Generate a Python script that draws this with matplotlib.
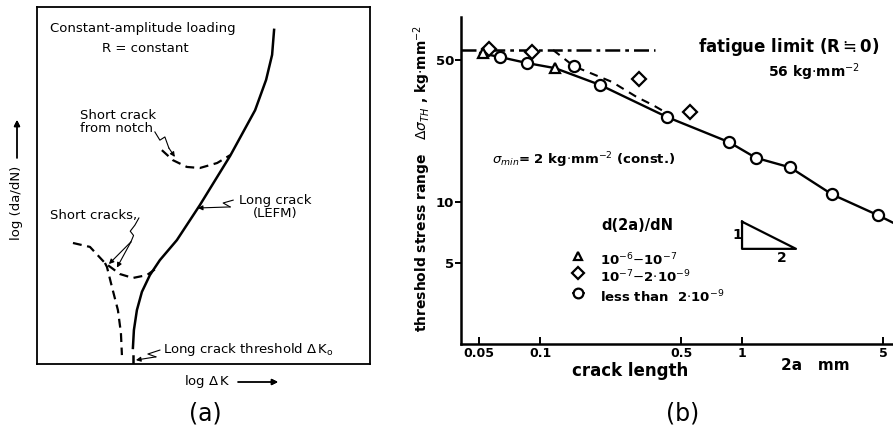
"""Crack growth schematic (a) and threshold stress range vs crack length (b)."""

import matplotlib.pyplot as plt
import numpy as np

W, H = 893, 437

# ---- panel (a): schematic curves, arbitrary log units (0-100) ----
long_u = [28.8, 29.1, 30.0, 31.5, 33.9, 36.9, 42.0, 48.9, 58.0, 65.5, 68.8, 70.6, 71.2]
long_v = [4.5, 9.5, 15.1, 20.2, 24.9, 29.1, 34.7, 44.5, 58.3, 71.1, 79.6, 86.6, 93.6]
notch_u = [37.5, 40.8, 45.0, 48.9, 54.1, 58.0]
notch_v = [59.9, 57.1, 55.2, 54.9, 56.3, 58.5]
short_u = [10.8, 15.9, 20.4, 24.9, 28.8, 33.0, 36.0]
short_v = [33.9, 32.8, 28.3, 25.2, 24.1, 24.9, 26.9]
arrest_u = [20.4, 21.0, 22.5, 24.3, 25.2, 25.5]
arrest_v = [28.3, 27.2, 21.6, 15.1, 8.7, 2.5]

# ---- panel (b): measured thresholds ----
circle_x = [0.0634, 0.0862, 0.147, 0.198, 0.425, 0.863, 1.17, 1.73, 2.79, 4.72]
circle_y = [51.7, 48.3, 46.6, 37.7, 26.2, 19.7, 16.5, 14.8, 10.9, 8.6]
diamond_x = [0.056, 0.091, 0.309, 0.553]
diamond_y = [56.5, 54.7, 40.3, 27.8]
triangle_x = [0.052, 0.1186]
triangle_y = [54.0, 45.6]
fit_x = [0.0505, 0.0634, 0.0862, 0.1186, 0.198, 0.425, 0.863, 1.17, 1.73, 2.79, 4.72, 5.6]
fit_y = [54.1, 51.7, 48.3, 45.6, 37.7, 26.2, 19.7, 16.5, 14.8, 10.9, 8.6, 7.9]
dash_x = [0.116, 0.147, 0.227, 0.302, 0.362, 0.416]
dash_y = [56.0, 46.6, 39.0, 32.8, 30.0, 27.7]
fatigue_limit = 56
fatigue_end = 0.37
slope_x = [1.0, 1.0, 1.85, 1.0]
slope_y = [8.0, 5.88, 5.88, 8.0]
xticks = [0.05, 0.1, 0.5, 1, 5]
xtick_labels = ["0.05", "0.1", "0.5", "1", "5"]
yticks = [5, 10, 50]
ytick_labels = ["5", "10", "50"]


def fx(px):
    return px / W


def fy(py):
    return 1 - py / H


fig = plt.figure(figsize=(W / 100, H / 100), dpi=100)

# ---------------- (a) ----------------
axa = fig.add_axes([fx(37), fy(364), (370 - 37) / W, (364 - 7) / H])
axa.set_xlim(0, 100)
axa.set_ylim(0, 100)
axa.set_xticks([])
axa.set_yticks([])
for s in axa.spines.values():
    s.set_linewidth(1.3)

axa.plot(long_u, long_v, color="black", lw=1.8)
axa.plot([28.8, 28.8], [0, 2.2], color="black", lw=1.8)
dash = dict(color="black", lw=1.6, dashes=(4, 2.5))
axa.plot(notch_u, notch_v, **dash)
axa.plot(short_u, short_v, **dash)
axa.plot(arrest_u, arrest_v, **dash)

txt = dict(fontsize=9.5, color="black", family="DejaVu Sans")
axa.text(3.9, 94.1, "Constant-amplitude loading", va="center", ha="left", **txt)
axa.text(32.4, 88.5, "R = constant", va="center", ha="center", **txt)
axa.text(12.9, 67.9, "Short crack\nfrom notch", va="center", ha="left", linespacing=1.0, **txt)
axa.text(71.5, 44.0, "Long crack\n(LEFM)", va="center", ha="center", linespacing=1.0, **txt)
axa.text(3.9, 41.7, "Short cracks,", va="center", ha="left", **txt)
axa.text(37.8, 4.2, r"Long crack threshold $\Delta\,$K$_{\rm o}$", va="center", ha="left", **txt)

lead = dict(color="black", lw=0.8)
arr = dict(arrowstyle="-|>", color="black", lw=0.8, mutation_scale=7, shrinkA=0, shrinkB=0)
# leaders (squiggle + arrow head)
axa.plot([35.4, 36.9, 38.4, 39.6], [65.0, 62.7, 63.6, 60.5], **lead)
axa.annotate("", xy=(41.4, 58.0), xytext=(39.6, 60.5), arrowprops=arr)
axa.plot([58.9, 55.9, 58.0], [45.9, 45.1, 44.0], **lead)
axa.annotate("", xy=(48.3, 43.7), xytext=(58.0, 44.0), arrowprops=arr)
axa.plot([30.6, 29.4, 28.0, 29.0, 28.2], [40.9, 38.9, 37.2, 36.0, 34.2], **lead)
axa.annotate("", xy=(21.6, 28.0), xytext=(28.2, 34.2), arrowprops=arr)
axa.annotate("", xy=(24.0, 27.0), xytext=(28.2, 34.2), arrowprops=arr)
axa.plot([36.9, 33.3, 35.7], [3.9, 2.8, 2.0], **lead)
axa.annotate("", xy=(29.7, 1.1), xytext=(35.7, 2.0), arrowprops=arr)

fig.text(fx(17), fy(203), "log (da/dN)", rotation=90, ha="center", va="center", **txt)
fig.text(fx(207), fy(382), r"log $\Delta\,$K", ha="center", va="center", **txt)
big_arr = dict(arrowstyle="-|>", color="black", lw=1.0, mutation_scale=9, shrinkA=0, shrinkB=0)
fig.add_artist(plt.annotate("", xy=(fx(17), fy(120)), xytext=(fx(17), fy(158)),
                            xycoords="figure fraction", arrowprops=big_arr))
fig.add_artist(plt.annotate("", xy=(fx(278), fy(382)), xytext=(fx(238), fy(382)),
                            xycoords="figure fraction", arrowprops=big_arr))

# ---------------- (b) ----------------
axb = fig.add_axes([fx(461), fy(344), (W - 461) / W, (344 - 17) / H])
axb.set_xscale("log")
axb.set_yscale("log")
axb.set_xlim(0.0406, 5.59)
axb.set_ylim(2.0, 81.4)
axb.spines["top"].set_visible(False)
axb.spines["right"].set_visible(False)
axb.spines["left"].set_linewidth(1.8)
axb.spines["bottom"].set_linewidth(1.8)
axb.minorticks_off()
axb.set_xticks(xticks, xtick_labels)
axb.set_yticks(yticks, ytick_labels)
axb.tick_params(axis="x", direction="in", length=5, width=1.4, pad=2, labelsize=9)
axb.tick_params(axis="y", direction="out", length=4, width=1.4, pad=1, labelsize=9.5)
for lab in axb.get_xticklabels() + axb.get_yticklabels():
    lab.set_fontweight("bold")

axb.plot([0.0406, fatigue_end], [fatigue_limit, fatigue_limit], color="black", lw=1.8,
         dashes=(6, 2, 1.5, 2))
axb.plot(fit_x, fit_y, color="black", lw=1.7, zorder=2)
axb.plot(dash_x, dash_y, color="black", lw=1.5, dashes=(4, 3), zorder=2)
mk = dict(ls="none", mfc="white", mec="black", mew=1.6, zorder=3)
axb.plot(circle_x, circle_y, marker="o", ms=8, **mk)
axb.plot(diamond_x, diamond_y, marker="D", ms=7, **mk)
axb.plot(triangle_x, triangle_y, marker="^", ms=7, **mk)
axb.plot(slope_x, slope_y, color="black", lw=1.6, clip_on=False)

bold = dict(fontweight="bold", color="black", family="DejaVu Sans")
fig.text(fx(698), fy(47), r"fatigue limit (R$\fallingdotseq$0)", fontsize=12, ha="left",
         va="center", **bold)
fig.text(fx(768), fy(72), r"56 kg$\cdot$mm$^{-2}$", fontsize=10, ha="left", va="center", **bold)
fig.text(fx(492), fy(160), r"$\sigma_{min}$= 2 kg$\cdot$mm$^{-2}$ (const.)", fontsize=9.5,
         ha="left", va="center", **bold)
fig.text(fx(637), fy(225), "d(2a)/dN", fontsize=10.5, ha="center", va="center", **bold)
fig.text(fx(600), fy(260), r"10$^{-6}$$-$10$^{-7}$", fontsize=9.5, ha="left", va="center", **bold)
fig.text(fx(600), fy(277), r"10$^{-7}$$-$2$\cdot$10$^{-9}$", fontsize=9.5, ha="left", va="center", **bold)
fig.text(fx(600), fy(297), r"less than  2$\cdot$10$^{-9}$", fontsize=9.5, ha="left", va="center", **bold)
fig.text(fx(737), fy(235), "1", fontsize=10, ha="center", va="center", **bold)
fig.text(fx(782), fy(258), "2", fontsize=10, ha="center", va="center", **bold)
leg = fig.add_axes([fx(568), fy(305), 24 / W, 54 / H])
leg.set_xlim(0, 24)
leg.set_ylim(54, 0)
leg.axis("off")
leg.plot([10], [5], marker="^", ms=6, **mk)
leg.plot([10], [22], marker="D", ms=6, **mk)
leg.plot([4, 17], [42, 42], color="black", lw=1.2, dashes=(1.5, 2))
leg.plot([10], [42], marker="o", ms=7, **mk)

fig.text(fx(422), fy(178), r"threshold stress range   $\Delta\sigma_{TH}$ , kg$\cdot$mm$^{-2}$",
         rotation=90, fontsize=10, ha="center", va="center", **bold)
fig.text(fx(630), fy(371), "crack length", fontsize=12, ha="center", va="center", **bold)
fig.text(fx(815), fy(366), "2a   mm", fontsize=11, ha="center", va="center", **bold)

cap = dict(fontsize=17, color="black", family="DejaVu Sans")
fig.text(fx(205), fy(413), "(a)", ha="center", va="center", **cap)
fig.text(fx(683), fy(413), "(b)", ha="center", va="center", **cap)

fig.savefig("out.png", dpi=100)
